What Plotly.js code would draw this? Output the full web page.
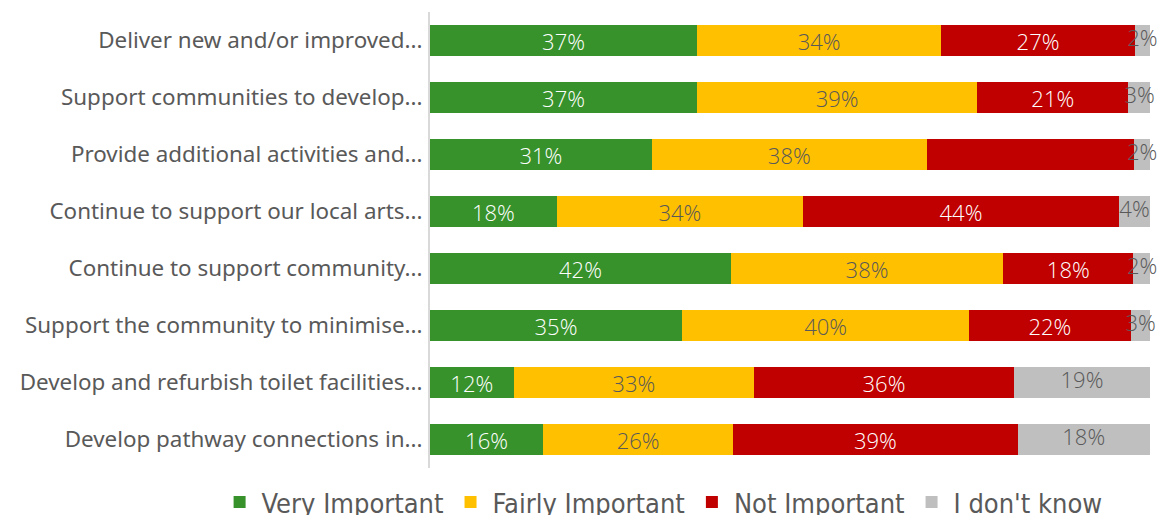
<!DOCTYPE html>
<html>
<head>
<meta charset="utf-8">
<script src="https://cdn.plot.ly/plotly-3.0.1.min.js"></script>
<style>html,body{margin:0;padding:0;background:#fff;}#chart{width:1158px;height:515px;}</style>
</head>
<body>
<div id="chart"></div>
<script>
var categories = [
  "Deliver new and/or improved...",
  "Support communities to develop...",
  "Provide additional activities and...",
  "Continue to support our local arts...",
  "Continue to support community...",
  "Support the community to minimise...",
  "Develop and refurbish toilet facilities...",
  "Develop pathway connections in..."
];
var seriesNames = ["Very Important", "Fairly Important", "Not Important", "I don't know"];
// percentages
var veryImportant   = [37.1, 37.1, 30.8, 17.6, 41.8, 35.0, 11.6, 15.7];
var fairlyImportant = [33.9, 38.9, 38.2, 34.2, 37.8, 39.9, 33.4, 26.4];
var notImportant    = [26.9, 21.0, 28.8, 43.9, 18.1, 22.4, 36.1, 39.5];
var dontKnow        = [2.1, 3.1, 2.2, 4.3, 2.4, 2.8, 18.9, 18.4];
// label shown on each segment ("" where the reference shows none)
var veryLabels    = ["37%","37%","31%","18%","42%","35%","12%","16%"];
var fairlyLabels  = ["34%","39%","38%","34%","38%","40%","33%","26%"];
var notLabels     = ["27%","21%","","44%","18%","22%","36%","39%"];
var dontLabels    = ["2%","3%","2%","4%","2%","3%","19%","18%"];

var colors = ["#37922B", "#FFC000", "#C00000", "#BFBFBF"];
var textColors = ["#ffffff", "#595959", "#ffffff", "#595959"];
var values = [veryImportant, fairlyImportant, notImportant, dontKnow];
var labels = [veryLabels, fairlyLabels, notLabels, dontLabels];

var textFamily = "Open Sans, sans-serif";
var textSize = 22;

var traces = values.map(function (v, i) {
  var last = (i === values.length - 1);
  return {
    type: "bar",
    orientation: "h",
    name: seriesNames[i],
    y: categories,
    x: v,
    text: last ? null : labels[i],
    texttemplate: last ? "" : "%{text}",
    textposition: last ? "none" : "inside",
    insidetextanchor: "middle",
    textangle: 0,
    constraintext: "none",
    cliponaxis: false,
    textfont: {family: textFamily, size: textSize, color: textColors[i], weight: 300},
    marker: {color: colors[i], line: {width: 0}},
    hoverinfo: "skip"
  };
});

// labels of the last segment, centred on it (they overflow the thin segments)
var lastCenters = categories.map(function (c, k) {
  return veryImportant[k] + fairlyImportant[k] + notImportant[k] + dontKnow[k] / 2;
});
traces.push({
  type: "scatter",
  mode: "text",
  x: lastCenters,
  y: categories,
  text: dontLabels,
  textposition: "middle center",
  textfont: {family: textFamily, size: textSize, color: textColors[3], weight: 300},
  cliponaxis: false,
  showlegend: false,
  hoverinfo: "skip"
});

var layout = {
  barmode: "stack",
  bargap: 0.46,
  width: 1158,
  height: 515,
  margin: {l: 430, r: 8, t: 12, b: 47, autoexpand: false},
  paper_bgcolor: "#ffffff",
  plot_bgcolor: "#ffffff",
  uniformtext: {mode: "show", minsize: 22},
  showlegend: true,
  legend: {
    orientation: "h",
    x: -0.295, xref: "paper", xanchor: "left",
    y: -0.022, yanchor: "top",
    itemwidth: 34,
    font: {family: "Liberation Sans Narrow, DejaVu Sans Condensed, Noto Sans, sans-serif", size: 27, color: "#595959"},
    traceorder: "normal"
  },
  xaxis: {
    range: [0, 100],
    visible: false,
    fixedrange: true
  },
  yaxis: {
    autorange: "reversed",
    showline: true,
    linecolor: "#d9d9d9",
    linewidth: 2,
    showgrid: false,
    zeroline: false,
    ticks: "",
    ticklabelstandoff: 1,
    tickfont: {family: "Noto Sans, sans-serif", size: 22.4, color: "#595959"}
  }
};

Plotly.newPlot("chart", traces, layout, {displayModeBar: false, staticPlot: true});
</script>
</body>
</html>
